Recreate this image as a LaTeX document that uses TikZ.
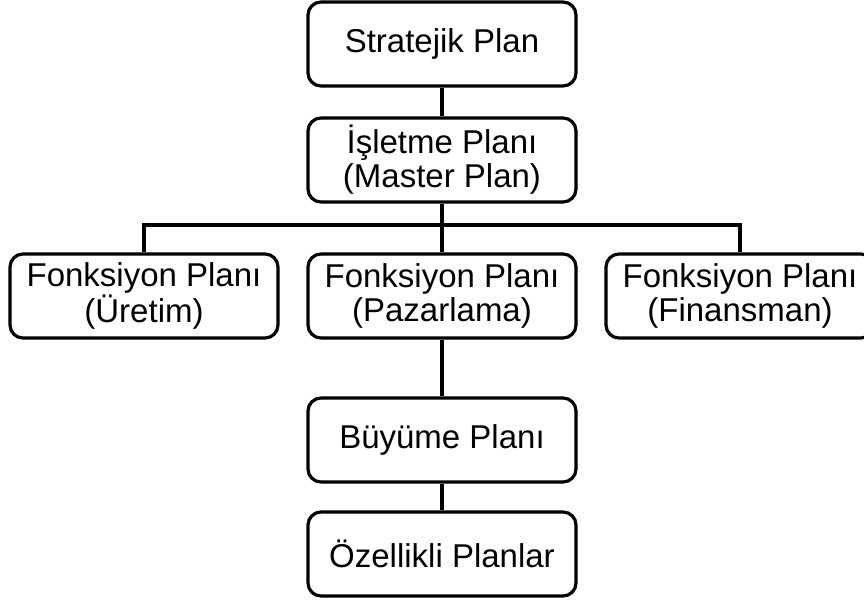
\documentclass[tikz,border=0pt]{standalone}
\usepackage{fontspec}
\setmainfont{Liberation Sans}
\begin{document}
\begin{tikzpicture}[x=1pt,y=-1pt,
  planbox/.style={draw=black, line width=3.2pt, rounded corners=13pt,
    fill=white, minimum width=268pt, minimum height=84pt,
    align=center, inner sep=0pt,
    font=\fontsize{33}{34}\selectfont},
  link/.style={draw=black, line width=3.2pt}]
\useasboundingbox (0,0) rectangle (864,602);
\clip (0,0) rectangle (864,602);

% top chain
\node[planbox] (strat)  at (442,44)  {Stratejik Plan};
\node[planbox] (master) at (442,160) {İşletme Planı\\(Master Plan)};

% functional plans
\node[planbox] (uretim)    at (144,296) {Fonksiyon Planı\\(Üretim)};
\node[planbox] (pazarlama) at (442,296) {Fonksiyon Planı\\(Pazarlama)};
\node[planbox] (finans)    at (740,296) {Fonksiyon Planı\\(Finansman)};

% lower chain
\node[planbox] (buyume) at (442,440) {Büyüme Planı};
\node[planbox] (ozel)   at (442,554) {Özellikli Planlar};

% connectors
\draw[link] (strat.south) -- (master.north);
\draw[link] (master.south) -- (pazarlama.north);
\coordinate (bus) at (442,225);
\draw[link] (bus) -| (uretim.north);
\draw[link] (bus) -| (finans.north);
\draw[link] (pazarlama.south) -- (buyume.north);
\draw[link] (buyume.south) -- (ozel.north);
\end{tikzpicture}
\end{document}
